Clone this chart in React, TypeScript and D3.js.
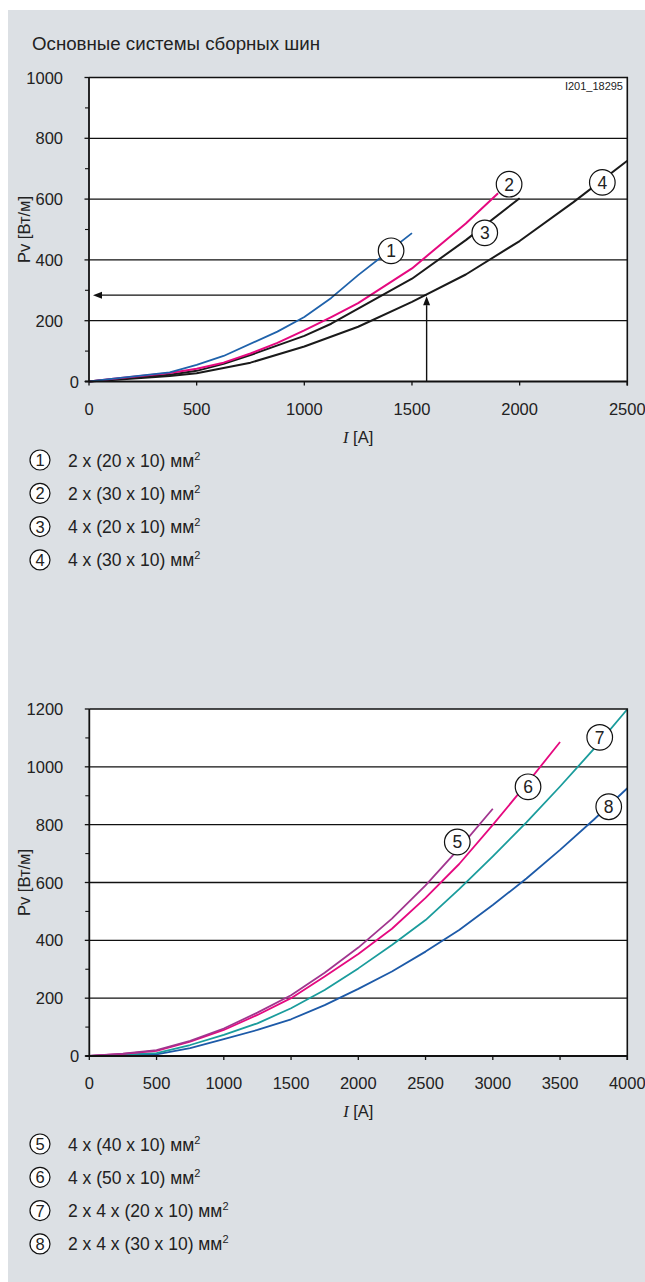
import React from "react";
import * as d3 from "d3";

// ---------- data ----------
const title = "Основные системы сборных шин";
const yTitle = "Pv [Вт/м]";
const drawingId = "I201_18295";

const topXTicks = [0, 500, 1000, 1500, 2000, 2500];
const topYTicks = [0, 200, 400, 600, 800, 1000];
const botXTicks = [0, 500, 1000, 1500, 2000, 2500, 3000, 3500, 4000];
const botYTicks = [0, 200, 400, 600, 800, 1000, 1200];

// top chart series [I (A), Pv (W/m)]
const s1: [number, number][] = [[0,0],[125,10],[375,30],[500,55],[625,84],[875,164],[1000,212],[1125,275],[1250,350],[1500,488]];
const s2: [number, number][] = [[0,0],[125,10],[375,28],[500,42],[625,62],[750,92],[875,127],[1000,168],[1125,212],[1250,258],[1500,372],[1750,520],[1900,619]];
const s3: [number, number][] = [[0,0],[125,8],[375,22],[500,35],[625,58],[750,87],[1000,150],[1125,190],[1250,240],[1500,338],[1750,465],[2000,603]];
const s4: [number, number][] = [[0,0],[125,6],[375,18],[500,27],[750,62],[1000,115],[1250,180],[1500,262],[1750,352],[2000,462],[2250,590],[2500,726]];

// bottom chart series
const s5: [number, number][] = [[0,0],[250,8],[500,20],[750,52],[1000,95],[1250,150],[1500,210],[1750,288],[2000,375],[2250,475],[2500,590],[2750,718],[3000,855]];
const s6: [number, number][] = [[0,0],[250,7],[500,18],[750,50],[1000,90],[1250,142],[1500,200],[1750,275],[2000,353],[2250,440],[2500,547],[2750,664],[3000,799],[3250,940],[3500,1086]];
const s7: [number, number][] = [[0,0],[250,5],[500,10],[750,38],[1000,73],[1250,113],[1500,165],[1750,228],[2000,303],[2250,384],[2500,470],[2750,577],[3000,690],[3250,808],[3500,932],[3750,1061],[4000,1199]];
const s8: [number, number][] = [[0,0],[250,3],[500,6],[750,27],[1000,58],[1250,90],[1500,127],[1750,176],[2000,232],[2250,292],[2500,361],[2750,436],[3000,522],[3250,614],[3500,713],[3750,817],[4000,926]];

// curve label anchors [I, Pv]
const topLabels: { n: string; at: [number, number] }[] = [
  { n: "1", at: [1403, 430] },
  { n: "2", at: [1951, 649] },
  { n: "3", at: [1838, 489] },
  { n: "4", at: [2384, 655] },
];
const botLabels: { n: string; at: [number, number] }[] = [
  { n: "5", at: [2736, 740] },
  { n: "6", at: [3262, 931] },
  { n: "7", at: [3795, 1102] },
  { n: "8", at: [3862, 862] },
];

const topLegend = [
  { n: "1", t: "2 x (20 x 10) мм" },
  { n: "2", t: "2 x (30 x 10) мм" },
  { n: "3", t: "4 x (20 x 10) мм" },
  { n: "4", t: "4 x (30 x 10) мм" },
];
const botLegend = [
  { n: "5", t: "4 x (40 x 10) мм" },
  { n: "6", t: "4 x (50 x 10) мм" },
  { n: "7", t: "2 x 4 x (20 x 10) мм" },
  { n: "8", t: "2 x 4 x (30 x 10) мм" },
];

// example read-off: I = 1568 A -> Pv = 284 W/m
const exampleI = 1568;
const exampleP = 284;

const FONT = "'Liberation Sans', Arial, Helvetica, sans-serif";
const TXT = "#222";

type Series = { data: [number, number][]; color: string; w: number };

function Chart(props: {
  x: d3.ScaleLinear<number, number>;
  y: d3.ScaleLinear<number, number>;
  xTicks: number[];
  yTicks: number[];
  minor: number;
  series: Series[];
  labels: { n: string; at: [number, number] }[];
  children?: React.ReactNode;
}) {
  const { x, y, xTicks, yTicks, minor, series, labels } = props;
  const [x0, x1] = x.range();
  const [yb, yt] = y.range();
  const line = d3.line<[number, number]>().x((d) => x(d[0])).y((d) => y(d[1]));
  const dmax = y.domain()[1];
  const minors = d3.range(minor, dmax, minor * 2);
  const xMid = (x0 + x1) / 2;
  return (
    <g>
      <rect x={x0} y={yt} width={x1 - x0} height={yb - yt} fill="#fff" />
      {yTicks.filter((v) => v > 0 && v < dmax).map((v) => (
        <line key={"g" + v} x1={x0} x2={x1} y1={y(v)} y2={y(v)} stroke="#111" strokeWidth={1.3} />
      ))}
      {series.map((s, i) => (
        <path key={"s" + i} d={line(s.data) || ""} fill="none" stroke={s.color} strokeWidth={s.w} strokeLinejoin="round" />
      ))}
      {props.children}
      {labels.map((l) => (
        <g key={"l" + l.n}>
          <circle cx={x(l.at[0])} cy={y(l.at[1])} r={12.8} fill="#fff" stroke="#111" strokeWidth={1.2} />
          <text x={x(l.at[0])} y={y(l.at[1]) + 6.3} textAnchor="middle" fontSize={17.5} fontFamily={FONT} fill={TXT}>{l.n}</text>
        </g>
      ))}
      {/* frame */}
      <path d={`M${x0},${yt}H${x1}V${yb + 4}`} fill="none" stroke="#111" strokeWidth={1.6} />
      <line x1={x0} x2={x0} y1={yt} y2={yb} stroke="#111" strokeWidth={1.8} />
      <line x1={x0 - 4} x2={x1} y1={yb} y2={yb} stroke="#111" strokeWidth={1.8} />
      {/* y ticks */}
      {yTicks.map((v) => (
        <line key={"yt" + v} x1={x0 - 4.5} x2={x0} y1={y(v)} y2={y(v)} stroke="#111" strokeWidth={1.3} />
      ))}
      {minors.map((v) => (
        <line key={"ym" + v} x1={x0 - 4} x2={x0} y1={y(v)} y2={y(v)} stroke="#111" strokeWidth={1.1} />
      ))}
      {xTicks.map((v) => (
        <line key={"xt" + v} x1={x(v)} x2={x(v)} y1={yb} y2={yb + 4} stroke="#111" strokeWidth={1.3} />
      ))}
      {/* tick labels */}
      {yTicks.map((v) => (
        <text key={"yl" + v} x={v === 0 ? x0 - 10 : x0 - 26} y={y(v) + 6} textAnchor="end" fontSize={16.5} fontFamily={FONT} fill={TXT}>{v}</text>
      ))}
      {xTicks.map((v) => (
        <text key={"xl" + v} x={x(v)} y={yb + 33} textAnchor="middle" fontSize={16.5} fontFamily={FONT} fill={TXT}>{v}</text>
      ))}
      <text x={xMid} y={yb + 61} textAnchor="middle" fontSize={16.5} fontFamily={FONT} fill={TXT}>
        <tspan fontFamily="'Liberation Serif', 'Times New Roman', serif" fontStyle="italic">I</tspan> [A]
      </text>
      <text transform={`translate(30,${(yt + yb) / 2}) rotate(-90)`} textAnchor="middle" fontSize={16.5} fontFamily={FONT} fill={TXT}>{yTitle}</text>
    </g>
  );
}

function Legend(props: { items: { n: string; t: string }[]; y0: number }) {
  return (
    <g>
      {props.items.map((it, i) => {
        const cy = props.y0 + i * 33.3;
        return (
          <g key={it.n}>
            <circle cx={40} cy={cy} r={10} fill="#fff" stroke="#111" strokeWidth={1.2} />
            <text x={40} y={cy + 6} textAnchor="middle" fontSize={16.5} fontFamily={FONT} fill={TXT}>{it.n}</text>
            <text x={68} y={cy + 6.5} fontSize={17.5} fontFamily={FONT} fill={TXT}>
              {it.t}
              <tspan fontSize={11} dy={-7}>2</tspan>
            </text>
          </g>
        );
      })}
    </g>
  );
}

export default function App() {
  const xTop = d3.scaleLinear().domain([0, 2500]).range([89, 627.3]);
  const yTop = d3.scaleLinear().domain([0, 1000]).range([381.5, 77.5]);
  const xBot = d3.scaleLinear().domain([0, 4000]).range([89.3, 627.3]);
  const yBot = d3.scaleLinear().domain([0, 1200]).range([1056, 709]);

  const ax = xTop(exampleI);
  const ay = yTop(exampleP);

  return (
    <svg width={645} height={1282} style={{ position: "absolute", left: 0, top: 0 }}>
      <rect x={0} y={0} width={645} height={1282} fill="#fff" />
      <rect x={8} y={10} width={637} height={1272} fill="#dce0e4" />
      <text x={32} y={50} fontSize={18.7} fontFamily={FONT} fill={TXT}>{title}</text>

      <Chart
        x={xTop}
        y={yTop}
        xTicks={topXTicks}
        yTicks={topYTicks}
        minor={100}
        series={[
          { data: s4, color: "#1a1a1a", w: 2 },
          { data: s3, color: "#1a1a1a", w: 2 },
          { data: s2, color: "#e5097f", w: 2 },
          { data: s1, color: "#1f62ab", w: 1.8 },
        ]}
        labels={topLabels}
      >
        <g>
          <line x1={ax} x2={xTop(0) + 12} y1={ay} y2={ay} stroke="#111" strokeWidth={1.4} />
          <path d={`M${xTop(0) + 4},${ay}l9,-3.5v7z`} fill="#111" />
          <line x1={ax} x2={ax} y1={yTop(0)} y2={ay + 10} stroke="#111" strokeWidth={1.4} />
          <path d={`M${ax},${ay + 1}l-3.5,9h7z`} fill="#111" />
        </g>
      </Chart>
      <text x={623} y={90} textAnchor="end" fontSize={11} fontFamily={FONT} fill={TXT}>{drawingId}</text>
      <Legend items={topLegend} y0={460} />

      <Chart
        x={xBot}
        y={yBot}
        xTicks={botXTicks}
        yTicks={botYTicks}
        minor={100}
        series={[
          { data: s8, color: "#1d5aa8", w: 1.8 },
          { data: s7, color: "#1a9c9c", w: 1.8 },
          { data: s6, color: "#e5097f", w: 1.8 },
          { data: s5, color: "#a1358f", w: 1.8 },
        ]}
        labels={botLabels}
      />
      <Legend items={botLegend} y0={1144} />
    </svg>
  );
}
